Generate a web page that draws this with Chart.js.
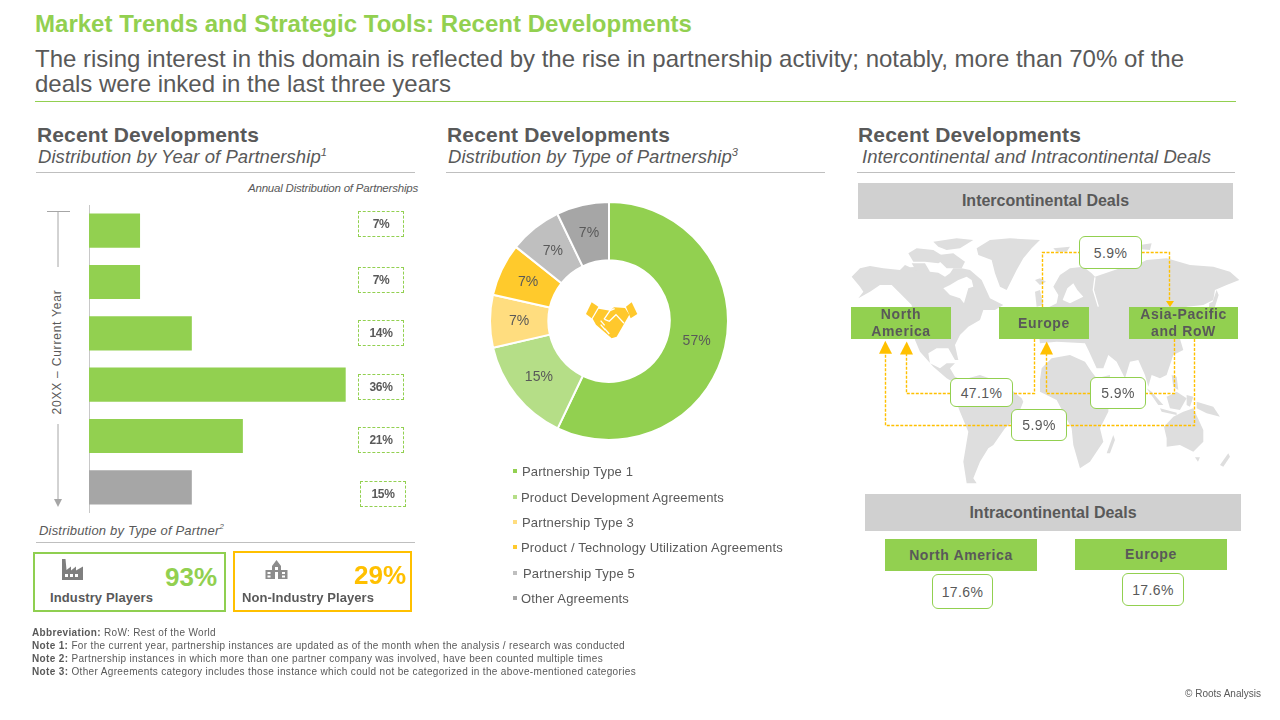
<!DOCTYPE html>
<html>
<head>
<meta charset="utf-8">
<title>Recent Developments</title>
<script src="https://cdn.jsdelivr.net/npm/chart.js@4"></script>
<style>
  html, body { margin: 0; padding: 0; background: #fff; }
  #slide { position: relative; width: 1280px; height: 720px; overflow: hidden; font-family: "Liberation Sans", Arial, sans-serif; color: #595959; }
  .t { position: absolute; white-space: nowrap; transform: translateY(-50%); line-height: 1; }
  .h { font-size: 21px; font-weight: bold; }
  .s { font-size: 18.5px; font-style: italic; }
  .n { font-size: 10px; }
  .rule { position: absolute; height: 1px; background: #bfbfbf; }
  .band { position: absolute; background: #d0d0d0; display: flex; align-items: center; justify-content: center; font-weight: bold; font-size: 16px; }
  .region { position: absolute; background: #92d050; display: flex; align-items: center; justify-content: center; text-align: center; font-weight: bold; font-size: 14px; line-height: 17px; letter-spacing: .6px; box-sizing: border-box; }
  .pct { position: absolute; background: #fff; border: 1.5px solid #92d050; border-radius: 6px; box-sizing: border-box; display: flex; align-items: center; justify-content: center; font-size: 14px; letter-spacing: .4px; }
  .dash { position: absolute; width: 46px; height: 26px; border: 1px dashed #92d050; box-sizing: border-box; display: flex; align-items: center; justify-content: center; font-size: 12px; font-weight: bold; letter-spacing: -.3px; }
  .kpi { position: absolute; box-sizing: border-box; border-style: solid; border-width: 2.5px; }
  sup { font-size: .6em; line-height: 0; }
  canvas { position: absolute; }
  svg { position: absolute; left: 0; top: 0; }
</style>
</head>
<body>
<div id="slide">
  <div class="t" data-w="657" style="left:35px;top:24px;font-size:24px;font-weight:bold;color:#92d050">Market Trends and Strategic Tools: Recent Developments</div>
  <div class="t" data-w="1149" style="left:35px;top:59px;font-size:24px">The rising interest in this domain is reflected by the rise in partnership activity; notably, more than 70% of the</div>
  <div class="t" data-w="416" style="left:35px;top:84px;font-size:24px">deals were inked in the last three years</div>
  <div class="rule" style="left:35px;top:101px;width:1201px;background:#92d050"></div>

  <div class="t h" data-w="222" style="left:37px;top:134px">Recent Developments</div>
  <div class="t s" data-w="289" style="left:38px;top:157px">Distribution by Year of Partnership<sup>1</sup></div>
  <div class="rule" style="left:36px;top:172px;width:379px"></div>
  <div class="t h" data-w="223" style="left:447px;top:134px">Recent Developments</div>
  <div class="t s" data-w="290" style="left:448px;top:157px">Distribution by Type of Partnership<sup>3</sup></div>
  <div class="rule" style="left:446px;top:172px;width:379px"></div>
  <div class="t h" data-w="223" style="left:858px;top:134px">Recent Developments</div>
  <div class="t s" data-w="349" style="left:862px;top:157px">Intercontinental and Intracontinental Deals</div>
  <div class="rule" style="left:857px;top:172px;width:378px"></div>

  <!-- left panel -->
  <div class="t" data-w="170" style="left:248px;top:189px;font-size:11.5px;font-style:italic">Annual Distribution of Partnerships</div>
  <svg width="1280" height="720" style="pointer-events:none">
    <path d="M47 211.5H70M58 211.5V267M58 424V500" stroke="#a6a6a6" stroke-width="1" fill="none"/>
    <path d="M54 499H62L58 507Z" fill="#a6a6a6"/>
  </svg>
  <div class="t" data-w="125" style="left:57px;top:352px;font-size:12px;transform:translate(-50%,-50%) rotate(-90deg)">20XX – Current Year</div>
  <canvas id="barChart" width="303" height="308" style="left:88px;top:205px"></canvas>
  <div id="barLabels"></div>

  <div class="t" data-w="185" style="left:39px;top:530px;font-size:13px;font-style:italic">Distribution by Type of Partner<sup>2</sup></div>
  <div class="rule" style="left:36px;top:542px;width:379px"></div>
  <div class="kpi" style="left:33px;top:552px;width:193px;height:60px;border-color:#8fcf50"></div>
  <div class="kpi" style="left:233px;top:551px;width:179px;height:61px;border-color:#ffc000"></div>
  <div class="t" data-w="52" style="left:165px;top:577px;font-size:26px;font-weight:bold;color:#92d050">93%</div>
  <div class="t" data-w="52" style="left:354px;top:575px;font-size:26px;font-weight:bold;color:#ffc000">29%</div>
  <div class="t" data-w="103" style="left:50px;top:597px;font-size:13px;font-weight:bold">Industry Players</div>
  <div class="t" data-w="132" style="left:242px;top:597px;font-size:13px;font-weight:bold">Non-Industry Players</div>
  <svg width="1280" height="720">
    <path d="M62 559H65.500L66.500 570L71 566.500V570.500L76 566.500V570.500L83 566.500V580H62Z" fill="#7f7f7f"/>
    <path d="M65 574h3v3h-3zM70 574h3v3h-3zM75 574h3v3h-3z" fill="#fff"/>
    <path d="M265.500 570H272V566L276.500 560L281 566V570H287.500V579H265.500Z" fill="#8c8c8c"/>
    <path d="M267.500 572h3v2h-3zM267.500 575.500h3v2h-3zM282 572h3v2h-3zM282 575.500h3v2h-3zM275 567h3v3h-3zM275 572h3v7h-3z" fill="#fff"/>
  </svg>

  <!-- middle panel -->
  <canvas id="donutChart" width="240" height="240" style="left:489px;top:201px"></canvas>
  <svg width="1280" height="720">
    <g transform="translate(470 190) scale(.3333)">
      <g fill="#ffc82c">
        <path d="M365 337L385 350L365 385L348 372Z"/>
        <path d="M485 337L502 372L482 385L468 350Z"/>
        <path d="M386 356L420 362L432 352L465 354L478 374L462 402L440 440L425 445L378 404L368 386Z"/>
      </g>
      <path d="M402 388L420 362L434 356M404 388L418 394L438 374L462 400M392 392L404 406M392 404L406 420M404 416L418 432" fill="none" stroke="#fff" stroke-width="4"/>
    </g>
  </svg>
  <div id="donutLegend"></div>

  <!-- right panel -->
  <div class="band" style="left:858px;top:183px;width:375px;height:36px">Intercontinental Deals</div>
  <svg width="1280" height="720">
    <g transform="translate(840 220) scale(.3333)" fill="#dedede">
      <!-- North America -->
      <path d="M35 170L60 145L90 138L130 145L180 150L195 135L210 142L240 140L270 155L295 158L315 170L330 160L340 145L365 145L390 150L425 180L450 235L490 255L465 270L430 270L420 300L385 320L360 345L345 375L355 420L345 420L325 385L290 385L265 400L270 430L300 445L320 430L345 430L330 445L345 470L365 480L345 490L320 475L280 440L240 395L225 360L215 255L180 220L155 195L120 195L90 215L55 235L70 215L60 200Z"/>
      <path fill="#fff" d="M310 205L330 195L355 180L380 170L395 180L400 200L385 205L372 250L360 235L330 225Z"/>
      <path d="M205 100L230 85L280 90L320 115L295 130L255 125L220 125Z"/>
      <path d="M215 130L255 130L270 155L230 155Z"/>
      <path d="M280 65L350 55L400 60L360 85L320 90L295 80Z"/>
      <path d="M295 105L340 100L375 125L365 145L320 145L300 125Z"/>
      <path d="M410 85L450 60L510 55L600 60L575 85L550 115L530 150L500 210L480 200L465 160L455 120L415 105Z"/>
      <path d="M585 180L600 175L618 185L600 195Z"/>
      <!-- South America -->
      <path d="M365 480L420 465L490 490L545 535L550 545L530 595L495 625L460 675L445 685L420 725L400 775L410 790L380 790L370 725L385 635L360 575L345 535L345 500Z"/>
      <!-- Africa -->
      <path d="M600 480L605 445L635 415L690 405L735 425L755 455L770 475L810 465L805 575L780 625L790 665L750 725L720 745L700 675L695 625L650 540L600 515Z"/>
      <path d="M800 700L820 645L825 660L810 700Z"/>
      <!-- Eurasia -->
      <path d="M600 370L595 330L610 270L650 250L655 225L640 200L660 165L690 145L730 140L755 160L765 170L840 145L900 130L920 120L980 115L1050 135L1120 140L1170 155L1198 180L1160 195L1125 210L1120 240L1090 255L1040 260L1030 300L1020 356L1030 390L1000 405L980 465L960 475L935 465L925 500L915 465L895 420L870 425L855 475L830 425L805 405L790 445L770 445L745 390L735 370L650 365Z"/>
      <path fill="#fff" d="M668 240L682 205L700 190L712 210L730 230L690 250Z"/>
      <path fill="none" stroke="#fff" stroke-width="4" d="M765 172L760 210L775 260"/>
      <path d="M585 215L600 210L610 255L590 260Z"/>
      <path d="M1108 250L1118 245L1130 210L1136 225L1125 260L1105 285Z"/>
      <path d="M640 85L690 80L680 95L650 95Z"/>
      <path d="M900 75L935 70L930 90L905 88Z"/>
      <!-- islands -->
      <path d="M920 505L935 515L970 555L955 555Z"/>
      <path d="M980 530L1010 515L1040 535L1020 570L990 565Z"/>
      <path d="M960 565L1010 578L1010 585L965 575Z"/>
      <path d="M1040 525L1060 530L1050 560L1040 555Z"/>
      <path d="M1070 545L1120 560L1140 590L1100 580L1070 565Z"/>
      <path d="M995 465L1010 470L1015 510L1000 500Z"/>
      <path d="M972 620L1000 590L1030 575L1060 565L1090 630L1090 665L1060 695L1020 675L980 680L980 655Z"/>
      <path d="M1065 712L1080 712L1074 725Z"/>
      <path d="M1140 735L1165 700L1170 710L1150 740Z"/>
    </g>
    <g fill="none" stroke="#ffc000" stroke-width="1.400" stroke-dasharray="3 1.500">
      <path d="M1042.500 307V252.500H1079M1141.700 252.500H1169.500V301"/>
      <path d="M1034.500 339V393.500H1012.700M950.300 393.500H906.500V354"/>
      <path d="M1194.500 339V425.500H1066.700M1011.300 425.500H885.500V353.500"/>
      <path d="M1174.500 339V393.500H1145.700M1090.300 393.500H1046.500V354"/>
    </g>
    <g fill="#ffc000">
      <path d="M1166 301H1174L1170 307Z"/>
      <path d="M900 354.500H913L906.700 341.500Z"/>
      <path d="M879 353.700H892L885.300 340.700Z"/>
      <path d="M1040 354.500H1053L1046.700 341.500Z"/>
    </g>
  </svg>
  <div class="region" style="left:851px;top:307px;width:100px;height:32px">North<br>America</div>
  <div class="region" style="left:999px;top:307px;width:90px;height:32px">Europe</div>
  <div class="region" style="left:1129px;top:307px;width:109px;height:32px">Asia-Pacific<br>and RoW</div>
  <div class="pct" style="left:1079px;top:236px;width:63px;height:33px">5.9%</div>
  <div class="pct" style="left:950px;top:378px;width:63px;height:29px">47.1%</div>
  <div class="pct" style="left:1090px;top:377px;width:56px;height:32px">5.9%</div>
  <div class="pct" style="left:1011px;top:409px;width:56px;height:32px">5.9%</div>

  <div class="band" style="left:865px;top:494px;width:376px;height:37px">Intracontinental Deals</div>
  <div class="region" style="left:885px;top:539px;width:152px;height:32px">North America</div>
  <div class="region" style="left:1075px;top:539px;width:152px;height:31px">Europe</div>
  <div class="pct" style="left:932px;top:574px;width:61px;height:35px">17.6%</div>
  <div class="pct" style="left:1122px;top:573px;width:62px;height:33px">17.6%</div>

  <!-- footnotes -->
  <div class="t n" data-w="184" style="left:32px;top:633px"><b>Abbreviation:</b> RoW: Rest of the World</div>
  <div class="t n" data-w="593" style="left:32px;top:646px"><b>Note 1:</b> For the current year, partnership instances are updated as of the month when the analysis / research was conducted</div>
  <div class="t n" data-w="571" style="left:32px;top:659px"><b>Note 2:</b> Partnership instances in which more than one partner company was involved, have been counted multiple times</div>
  <div class="t n" data-w="604" style="left:32px;top:672px"><b>Note 3:</b> Other Agreements category includes those instance which could not be categorized in the above-mentioned categories</div>
  <div class="t n" data-w="76" style="left:1185px;top:694px">© Roots Analysis</div>
</div>

<script>
const yearShares = [7.1, 7.1, 14.3, 35.7, 21.4, 14.3];
const yearLabels = ["7%", "7%", "14%", "36%", "21%", "15%"];
const yearColors = ["#92d050", "#92d050", "#92d050", "#92d050", "#92d050", "#a6a6a6"];

// type of partnership
const typeNames = [
  "Partnership Type 1",
  "Product Development Agreements",
  "Partnership Type 3",
  "Product / Technology Utilization Agreements",
  "Partnership Type 5",
  "Other Agreements",
];
const typeShares = [57.1, 14.3, 7.15, 7.15, 7.15, 7.15];
const typeLabels = ["57%", "15%", "7%", "7%", "7%", "7%"];
const typeColors = ["#92d050", "#b5de87", "#ffdd7f", "#ffca2c", "#bfbfbf", "#a6a6a6"];

// the slide's hand placed boxes and legend rows
const barBoxSpots = [[358, 211], [358, 267], [358, 320], [358, 374], [358, 427], [360, 481]];
const legendRows = [[522, 471, 111], [521, 496.5, 203], [522, 521.5, 112], [521, 547, 262], [523, 573, 112], [521, 598, 108]];

function fitText(el) {
  // stretch a line to the width it has on the slide
  const target = Number(el.dataset.w);
  if (!target) return;
  const r = document.createRange();
  r.selectNodeContents(el);
  const measured = r.getBoundingClientRect();
  const rotated = el.style.transform.includes("rotate");
  const width = rotated ? measured.height : measured.width;
  el.style.letterSpacing = (target - width) / el.textContent.length + "px";
}

const boxHolder = document.getElementById("barLabels");
yearLabels.forEach((label, i) => {
  const box = document.createElement("div");
  box.className = "dash";
  box.style.left = barBoxSpots[i][0] + "px";
  box.style.top = barBoxSpots[i][1] + "px";
  box.textContent = label;
  boxHolder.appendChild(box);
});

const legendHolder = document.getElementById("donutLegend");
typeNames.forEach((name, i) => {
  const [x, y, w] = legendRows[i];
  const dot = document.createElement("div");
  dot.style.cssText = `position:absolute;left:513px;top:${y - 2}px;width:4px;height:4px;background:${typeColors[i]}`;
  legendHolder.appendChild(dot);
  const text = document.createElement("div");
  text.className = "t";
  text.dataset.w = w;
  text.style.cssText = `left:${x}px;top:${y}px;font-size:13px`;
  text.textContent = name;
  legendHolder.appendChild(text);
});

document.querySelectorAll("[data-w]").forEach(fitText);

new Chart(document.getElementById("barChart"), {
  type: "bar",
  data: {
    labels: yearLabels,
    datasets: [{
      data: yearShares,
      backgroundColor: yearColors,
      categoryPercentage: 1,
      barPercentage: 0.665,
    }],
  },
  options: {
    indexAxis: "y",
    responsive: false,
    animation: false,
    layout: { padding: 0 },
    scales: {
      x: { display: false, min: 0, max: 42 },
      y: {
        ticks: { display: false },
        grid: { display: false, drawTicks: false },
        border: { display: true, color: "#c8c8c8", width: 1 },
        afterFit: (scale) => { scale.width = 1; },
      },
    },
    plugins: { legend: { display: false }, tooltip: { enabled: false } },
  },
});

const sliceLabels = {
  id: "sliceLabels",
  afterDatasetsDraw(chart) {
    const c = chart.ctx;
    c.save();
    c.fillStyle = "#595959";
    c.font = '14px "Liberation Sans", Arial, sans-serif';
    c.textAlign = "center";
    c.textBaseline = "middle";
    chart.getDatasetMeta(0).data.forEach((arc, i) => {
      const p = arc.getCenterPoint();
      c.fillText(typeLabels[i], p.x, p.y);
    });
    c.restore();
  },
};

new Chart(document.getElementById("donutChart"), {
  type: "doughnut",
  data: {
    labels: typeNames,
    datasets: [{
      data: typeShares,
      backgroundColor: typeColors,
      borderColor: "#fff",
      borderWidth: 2,
    }],
  },
  options: {
    responsive: false,
    animation: false,
    cutout: "51%",
    layout: { padding: 0 },
    plugins: { legend: { display: false }, tooltip: { enabled: false } },
  },
  plugins: [sliceLabels],
});
</script>
</body>
</html>
